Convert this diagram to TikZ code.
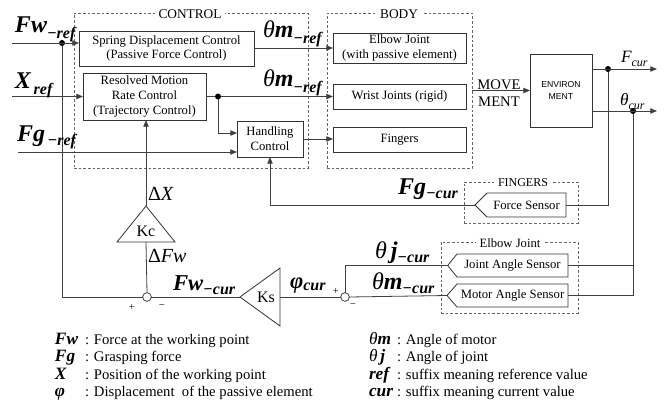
\documentclass[tikz,border=0pt]{standalone}
\usepackage{fontspec}
\setmainfont{Liberation Serif}
\newfontfamily\sansf{Liberation Sans}
\usetikzlibrary{arrows.meta}
\newcommand\fsz[1]{\fontsize{#1}{#1}\selectfont}
\newcommand\sub[2]{\raisebox{-#1}{\fsz{12}\bfseries\itshape #2}}
\begin{document}
\begin{tikzpicture}[x=0.75pt,y=-0.75pt,
  every node/.style={inner sep=0pt, outer sep=0pt},
  blk/.style={draw=black!80, line width=0.6pt, align=center, font=\fontsize{9.5}{11}\selectfont},
  grp/.style={draw=black!60, dash pattern=on 2pt off 1.5pt, line width=0.5pt},
  grplabel/.style={fill=white, inner xsep=3pt, inner ysep=1pt, font=\fontsize{10}{12}\selectfont},
  wire/.style={draw=black!75, line width=0.6pt},
  arr/.style={wire, -{Triangle[length=5pt,width=4pt]}},
  dot/.style={circle, fill=black, minimum size=4.5pt},
  sumc/.style={circle, draw=black!75, fill=white, line width=0.6pt, minimum size=6.5pt},
  lab/.style={anchor=base west},
  pm/.style={font=\fsz{8}},
  leg/.style={anchor=base west, font=\fsz{11}},
]
\useasboundingbox (0,0) rectangle (668,403);

% group boxes
\node[grp, minimum width=175.5pt, minimum height=116.25pt] (control) at (191,90.5) {};
\node[grp, minimum width=108.75pt, minimum height=116.25pt] (body) at (399.5,90.5) {};
\node[grp, minimum width=85.5pt, minimum height=30.75pt] (fingbox) at (521,202.5) {};
\node[grp, minimum width=102.75pt, minimum height=53.25pt] (elbbox) at (509.5,277.5) {};
\node[grplabel] at (190,14) {CONTROL};
\node[grplabel] at (399,14) {BODY};
\node[grplabel, font=\fontsize{9}{11}\selectfont] at (523,183) {FINGERS};
\node[grplabel, font=\fontsize{9.5}{11}\selectfont] at (510,243) {Elbow Joint};

% blocks
\node[blk, minimum width=131.25pt, minimum height=26.25pt] (spring) at (166.5,48.5) {Spring Displacement Control\\(Passive Force Control)};
\node[blk, minimum width=92.25pt, minimum height=35.25pt] (resolved) at (144.5,96.5) {Resolved Motion\\Rate Control\\(Trajectory Control)};
\node[blk, minimum width=49.5pt, minimum height=27pt] (handling) at (270,139) {Handling\\Control};
\node[blk, minimum width=99.75pt, minimum height=22.5pt] (elbow) at (399.5,48) {Elbow Joint\\(with passive element)};
\node[blk, minimum width=99.75pt, minimum height=18.75pt] (wrist) at (399.5,96.5) {Wrist Joints (rigid)};
\node[blk, minimum width=99.75pt, minimum height=18.75pt] (fingers) at (399.5,139.5) {Fingers};
\node[blk, minimum width=46.5pt, minimum height=54.75pt, font=\sansf\fontsize{6.5}{9}\selectfont] (env) at (561,90.5) {ENVIRON\\MENT};

% sensors (rectangles with a left pointer)
\node[font=\fontsize{9.5}{11}\selectfont, minimum width=59.25pt, minimum height=18pt] (fs) at (526.5,205) {Force Sensor};
\coordinate (fstip) at ([xshift=-9pt]fs.west);
\draw[blk] (fs.south west) -- (fstip) -- (fs.north west) -- (fs.north east) -- (fs.south east) -- cycle;
\node[font=\fontsize{9.5}{11}\selectfont, minimum width=83.25pt, minimum height=17.25pt] (js) at (512.5,265.5) {Joint Angle Sensor};
\coordinate (jstip) at ([xshift=-7pt]js.west);
\draw[blk] (js.south west) -- (jstip) -- (js.north west) -- (js.north east) -- (js.south east) -- cycle;
\node[font=\fontsize{9.5}{11}\selectfont, minimum width=83.25pt, minimum height=17.25pt] (ms) at (512.5,295.5) {Motor Angle Sensor};
\coordinate (mstip) at ([xshift=-7.5pt]ms.west);
\draw[blk] (ms.south west) -- (mstip) -- (ms.north west) -- (ms.north east) -- (ms.south east) -- cycle;

% gains
\coordinate (kcapex) at (146,206);
\coordinate (kcbl) at (117,242);
\coordinate (kcbr) at (175,242);
\coordinate (kcbase) at (146,242);
\draw[wire, draw=black!80] (kcapex) -- (kcbl) -- (kcbr) -- cycle;
\node[font=\fsz{12}] (kc) at (146,231) {Kc};
\coordinate (kstip) at (240,297);
\coordinate (kstop) at (280,268);
\coordinate (ksbot) at (280,326);
\coordinate (ksback) at (280,297);
\draw[wire, draw=black!80] (kstip) -- (kstop) -- (ksbot) -- cycle;
\node[font=\fsz{12}] (ks) at (266,297) {Ks};

% junctions
\node[dot] (d1) at (62,43) {};
\node[dot] (d2) at (218,96.5) {};
\node[dot] (d3) at (608,69) {};
\node[dot] (d4) at (633,111) {};
\node[sumc] (s1) at (147,297) {};
\node[sumc] (s2) at (345,297) {};
\coordinate (fwin) at (12,43);
\coordinate (xin) at (12,96.5);
\coordinate (fgin) at (18,152);
\coordinate (fcurend) at (657,69);
\coordinate (thcurend) at (657,111);

% wires
\draw[arr] (fwin) -- (fwin -| spring.west);
\draw[arr] (xin) -- (resolved.west);
\draw[arr] (fgin) -- (fgin -| handling.west);
\draw[arr] (spring.east |- elbow.west) -- (elbow.west);
\draw[wire] (resolved.east) -- (d2);
\draw[arr] (d2) -- (wrist.west);
\draw[arr] (d2) |- ([yshift=4.5pt]handling.west);
\draw[arr] (handling.east) -- (handling.east -| fingers.west);
\draw[arr] (body.east |- env.west) -- (env.west);
\draw[arr] (env.east |- d3) -- (fcurend);
\draw[arr] (env.east |- d4) -- (thcurend);
\draw[wire] (d3) |- (fs.east);
\draw[arr] (fstip) -| (handling.south);
\draw[wire] (d4) |- (ms.east);
\draw[wire] (d4 |- js.east) -- (js.east);
\draw[wire] (mstip) -- (s2.east);
\draw[wire] (jstip) -| (s2.north);
\draw[wire] (s2.west) -- (ksback);
\draw[wire] (kstip) -- (s1.east);
\draw[wire] (d1) |- (s1.west);
\draw[wire] (s1.north) -- (kcbase);
\draw[arr] (kcapex) -- (kcapex |- resolved.south);

% signal labels
\node[lab] at (15,33) {\fsz{18}\bfseries\itshape Fw\sub{4pt}{−ref}};
\node[lab] at (15,89) {\fsz{18}\bfseries\itshape X\sub{4pt}{\,ref}};
\node[lab] at (17,142) {\fsz{18}\bfseries\itshape Fg\sub{3pt}{\,−ref}};
\node[lab] at (263,38) {\fsz{18}\itshape θ\bfseries m\sub{4.5pt}{−ref}};
\node[lab] at (263,87) {\fsz{18}\itshape θ\bfseries m\sub{4.5pt}{−ref}};
\node[lab] at (621,63) {\fsz{13}\itshape F\raisebox{-2.5pt}{\fsz{9}cur}};
\node[lab] at (620,106) {\fsz{13}\itshape θ\raisebox{-2.5pt}{\fsz{9}cur}};
\node[align=center, font=\fontsize{11}{12.75}\selectfont] at (499,93.5) {MOVE\\MENT};
\node[lab] at (398,194) {\fsz{18}\bfseries\itshape Fg\sub{3pt}{−cur}};
\node[lab] at (375,258) {\fsz{18}\itshape θ\,\bfseries j\sub{3pt}{−cur}};
\node[lab] at (372,289) {\fsz{18}\itshape θ\bfseries m\sub{3pt}{−cur}};
\node[lab] at (290,288) {\fsz{17}\bfseries\itshape φ\sub{2pt}{cur}};
\node[lab] at (173,290) {\fsz{17}\bfseries\itshape Fw\sub{3pt}{−cur}};
\node[lab] at (148,200) {\fsz{15}Δ\itshape X};
\node[lab] at (148,262) {\fsz{15}Δ\itshape Fw};
\node[pm] at (132,307) {+};
\node[pm] at (162,307) {−};
\node[pm] at (336,291) {+};
\node[pm] at (353,306) {−};

% legend
\node[lab] at (55,344) {\fsz{13}\bfseries\itshape Fw};
\node[lab] at (55,361) {\fsz{13}\bfseries\itshape Fg};
\node[lab] at (55,379) {\fsz{13}\bfseries\itshape X};
\node[lab] at (55,396) {\fsz{13}\bfseries\itshape φ};
\node[leg] at (85,344) {: Force at the working point};
\node[leg] at (85,361) {: Grasping force};
\node[leg] at (85,379) {: Position of the working point};
\node[leg] at (85,396) {: Displacement\ \ of the passive element};
\node[lab] at (369,344) {\fsz{13}\itshape θ\bfseries m};
\node[lab] at (369,361) {\fsz{13}\itshape θ\,\bfseries j};
\node[lab] at (369,379) {\fsz{13}\bfseries\itshape ref};
\node[lab] at (369,396) {\fsz{13}\bfseries\itshape cur};
\node[leg] at (397,344) {: Angle of motor};
\node[leg] at (397,361) {: Angle of joint};
\node[leg] at (397,379) {: suffix meaning reference value};
\node[leg] at (397,396) {: suffix meaning current value};
\end{tikzpicture}
\end{document}
